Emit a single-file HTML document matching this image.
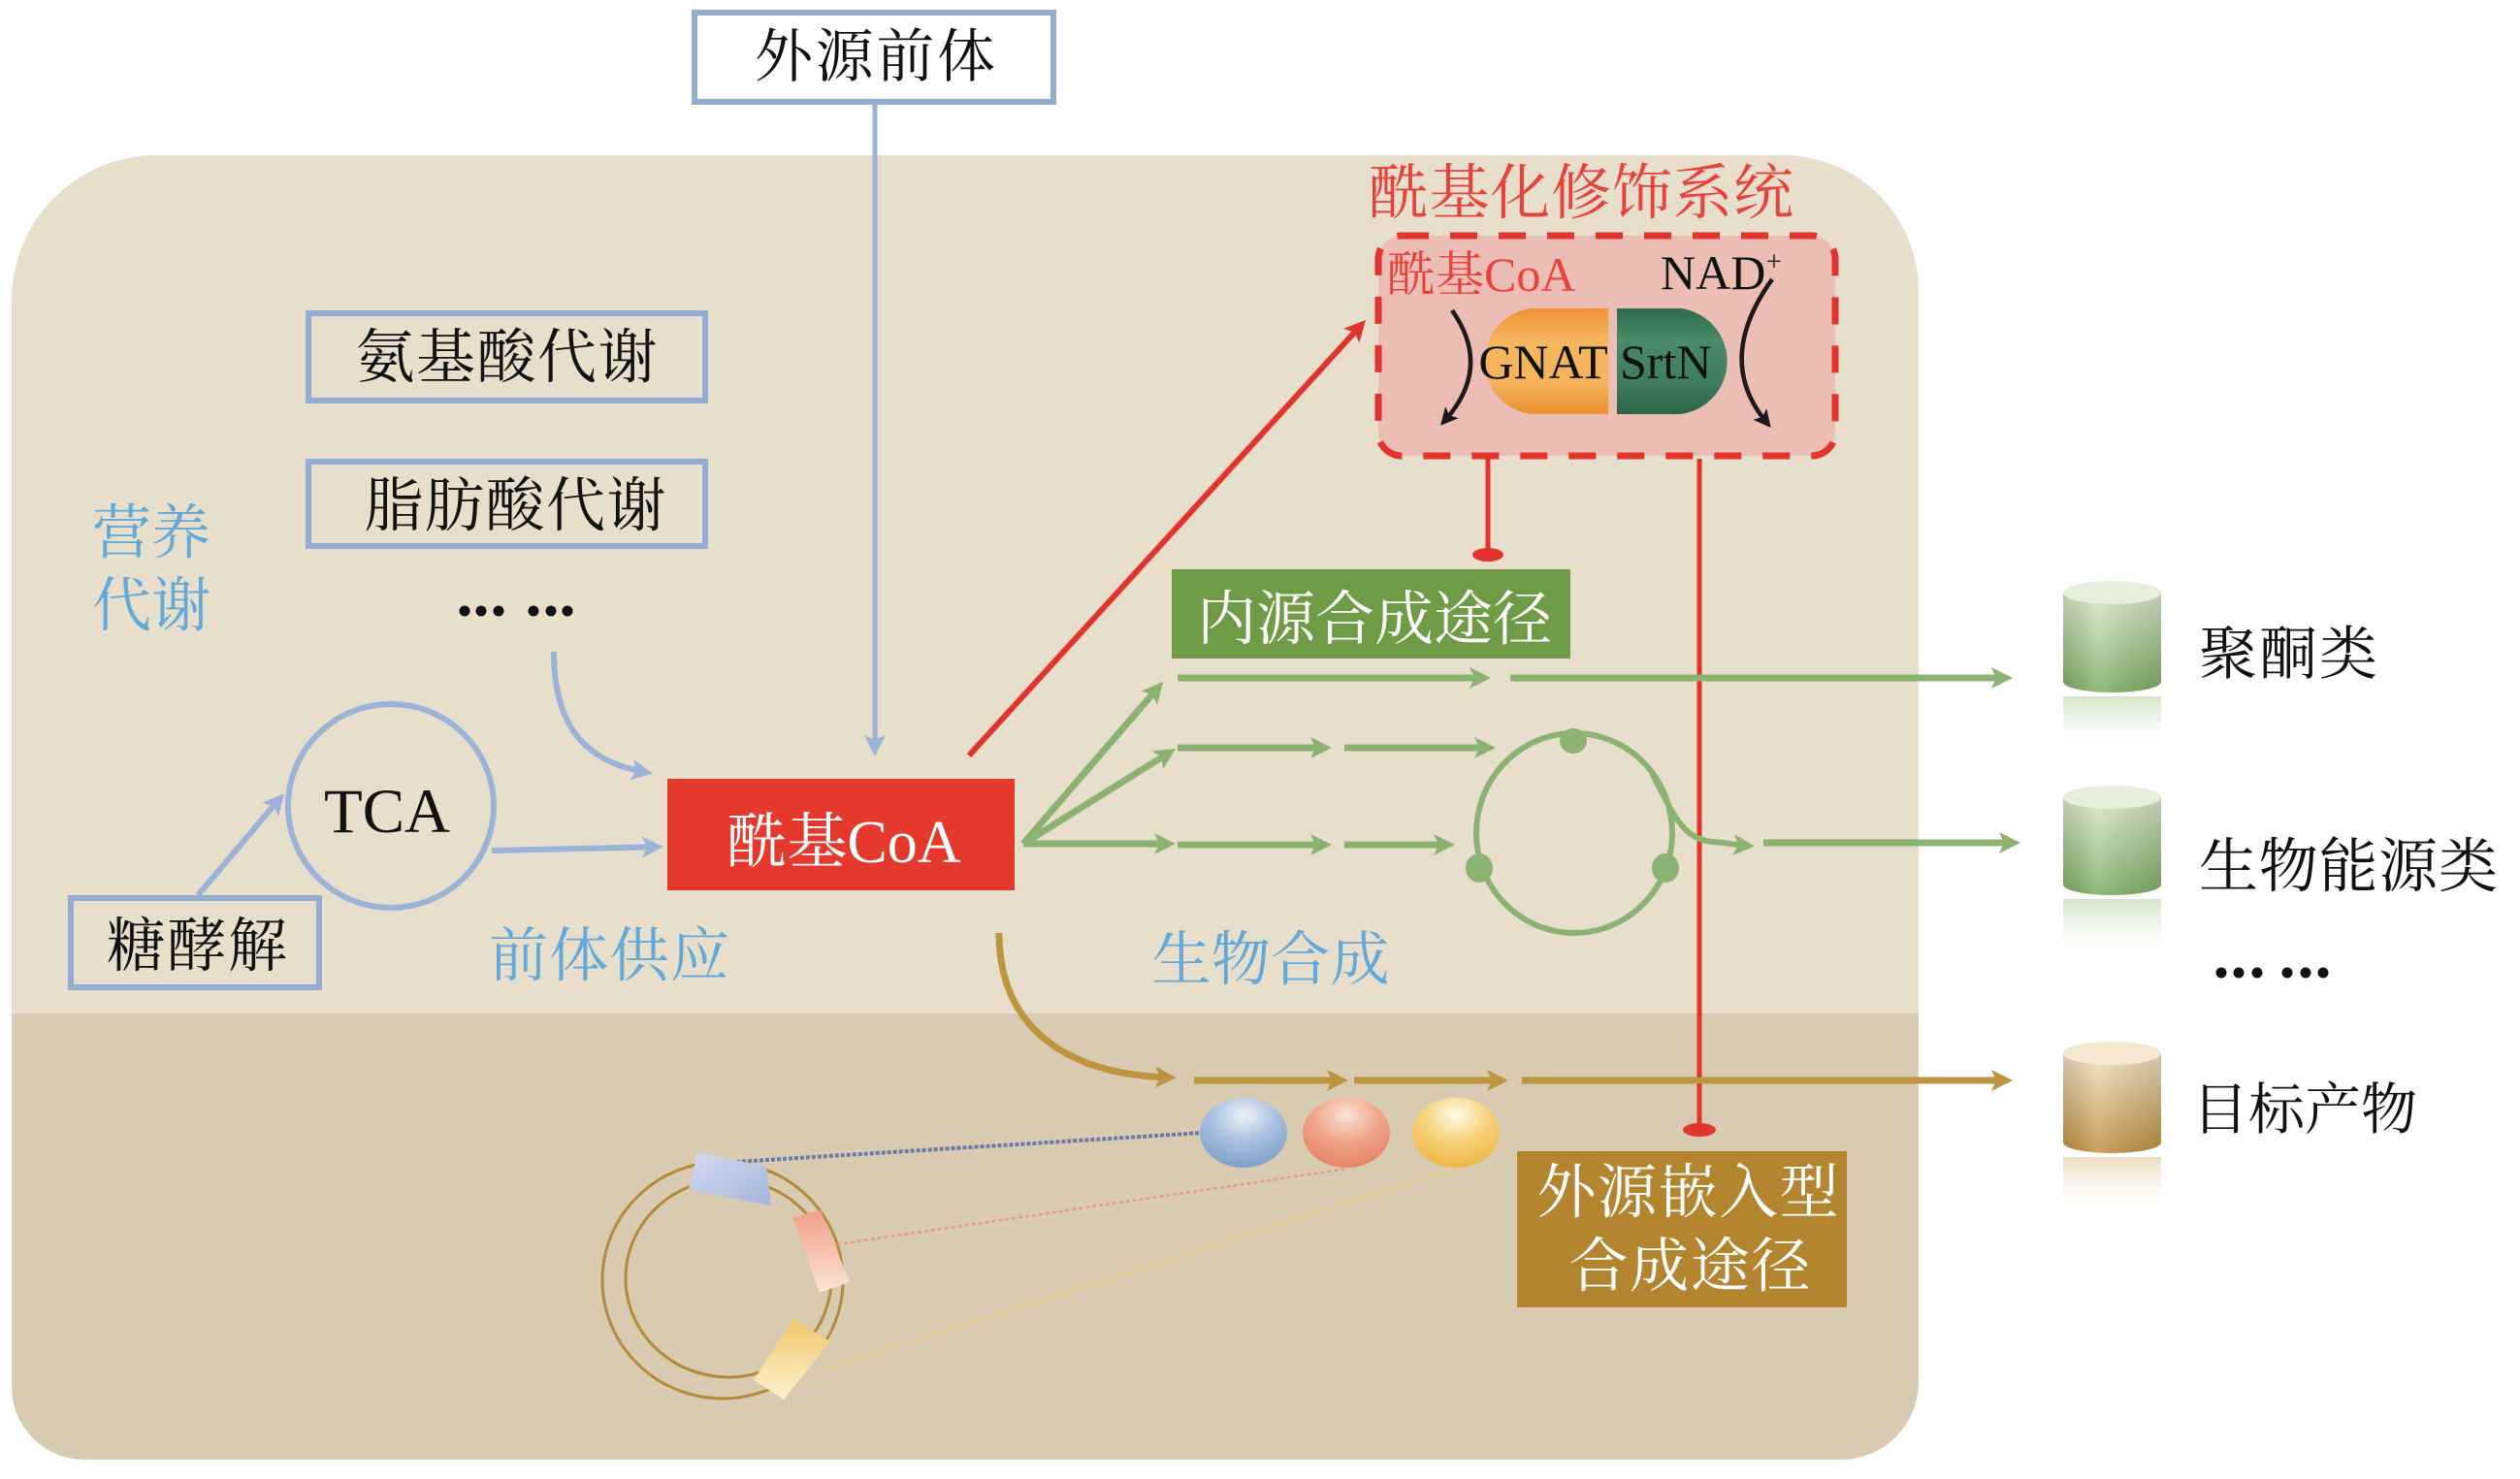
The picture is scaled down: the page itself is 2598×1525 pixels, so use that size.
<!DOCTYPE html>
<html><head><meta charset="utf-8"><style>
html,body{margin:0;padding:0;background:#fff;}
svg{display:block;}
text{font-family:"Liberation Serif","Noto Serif CJK SC",serif;}
</style></head><body>
<svg width="2598" height="1525" viewBox="0 0 2598 1525" xmlns="http://www.w3.org/2000/svg">
<defs>
<clipPath id="bgclip"><path d="M12,310 A150,150 0 0 1 162,160 L1838,160 A140,140 0 0 1 1978,300 L1978,1425 A80,80 0 0 1 1898,1505 L87,1505 A75,75 0 0 1 12,1430 Z"/></clipPath>
<marker id="mb" markerUnits="userSpaceOnUse" markerWidth="24" markerHeight="24" viewBox="0 -12 24 24" refX="14" refY="0" orient="auto"><path d="M0,-11 L22,0 L0,11 L5,0Z" fill="#9ab3d6"/></marker>
<marker id="mg" markerUnits="userSpaceOnUse" markerWidth="24" markerHeight="24" viewBox="0 -12 24 24" refX="14" refY="0" orient="auto"><path d="M0,-11 L22,0 L0,11 L5,0Z" fill="#8cb272"/></marker>
<marker id="mo" markerUnits="userSpaceOnUse" markerWidth="24" markerHeight="24" viewBox="0 -12 24 24" refX="14" refY="0" orient="auto"><path d="M0,-11 L22,0 L0,11 L5,0Z" fill="#bd943f"/></marker>
<marker id="mr" markerUnits="userSpaceOnUse" markerWidth="24" markerHeight="24" viewBox="0 -12 24 24" refX="14" refY="0" orient="auto"><path d="M0,-11 L22,0 L0,11 L5,0Z" fill="#e2342c"/></marker>
<marker id="mk" markerUnits="userSpaceOnUse" markerWidth="20" markerHeight="20" viewBox="0 -10 20 20" refX="9" refY="0" orient="auto"><path d="M0,-9 L18,0 L0,9 L4,0Z" fill="#1a1a1a"/></marker>
<linearGradient id="gOr" x1="0" y1="0" x2="0" y2="1"><stop offset="0" stop-color="#ef9234"/><stop offset="0.3" stop-color="#f5b660"/><stop offset="0.7" stop-color="#f4b35c"/><stop offset="1" stop-color="#ec9030"/></linearGradient>
<linearGradient id="gGr" x1="0" y1="0" x2="0" y2="1"><stop offset="0" stop-color="#2e6a4d"/><stop offset="0.3" stop-color="#4a8a68"/><stop offset="0.7" stop-color="#3f7d5d"/><stop offset="1" stop-color="#2b6447"/></linearGradient>
<linearGradient id="cylG" x1="0" y1="0" x2="0" y2="1"><stop offset="0" stop-color="#dbe8cd"/><stop offset="1" stop-color="#7eae64"/></linearGradient>
<linearGradient id="cylO" x1="0" y1="0" x2="0" y2="1"><stop offset="0" stop-color="#f0e2c4"/><stop offset="1" stop-color="#c19040"/></linearGradient>
<linearGradient id="cylH" x1="0" y1="0" x2="1" y2="0"><stop offset="0" stop-color="#000" stop-opacity="0.12"/><stop offset="0.35" stop-color="#fff" stop-opacity="0.15"/><stop offset="1" stop-color="#000" stop-opacity="0.12"/></linearGradient>
<linearGradient id="refG" x1="0" y1="0" x2="0" y2="1"><stop offset="0" stop-color="#9cc487" stop-opacity="0.45"/><stop offset="1" stop-color="#ffffff" stop-opacity="0"/></linearGradient>
<linearGradient id="refO" x1="0" y1="0" x2="0" y2="1"><stop offset="0" stop-color="#d8b078" stop-opacity="0.45"/><stop offset="1" stop-color="#ffffff" stop-opacity="0"/></linearGradient>
<radialGradient id="bB" cx="0.5" cy="0.25" r="0.75"><stop offset="0" stop-color="#eef2f8"/><stop offset="0.5" stop-color="#a9c0de"/><stop offset="1" stop-color="#7f9fcb"/></radialGradient>
<radialGradient id="bO" cx="0.5" cy="0.25" r="0.75"><stop offset="0" stop-color="#fbe3d6"/><stop offset="0.5" stop-color="#f0a58a"/><stop offset="1" stop-color="#e58566"/></radialGradient>
<radialGradient id="bY" cx="0.5" cy="0.25" r="0.75"><stop offset="0" stop-color="#fffbe8"/><stop offset="0.5" stop-color="#f6d27a"/><stop offset="1" stop-color="#eeb848"/></radialGradient>
<linearGradient id="pkB" x1="0" y1="0" x2="1" y2="1"><stop offset="0" stop-color="#d6dcf0"/><stop offset="1" stop-color="#a3b3da"/></linearGradient>
<linearGradient id="pkP" x1="0" y1="0" x2="0" y2="1"><stop offset="0" stop-color="#ef9f86"/><stop offset="1" stop-color="#fbe4d6"/></linearGradient>
<linearGradient id="pkY" x1="0" y1="0" x2="0" y2="1"><stop offset="0" stop-color="#f0c66a"/><stop offset="1" stop-color="#fdf2cf"/></linearGradient>
</defs>

<!-- background -->
<g clip-path="url(#bgclip)">
<rect x="0" y="150" width="2000" height="900" fill="#e7decb"/>
<rect x="0" y="1045" width="2000" height="470" fill="#d9cbb2"/>
</g>

<!-- 外源前体 -->
<rect x="716" y="13" width="370" height="92" fill="#fff" stroke="#93acd2" stroke-width="6"/>
<text x="902" y="79" font-size="60" text-anchor="middle" fill="#111" textLength="248" lengthAdjust="spacing">外源前体</text>
<path d="M902,106 L902,772" stroke="#9ab3d6" stroke-width="5" fill="none" marker-end="url(#mb)"/>

<!-- left boxes -->
<rect x="318" y="323" width="409" height="90" fill="none" stroke="#93acd2" stroke-width="6"/>
<text x="522" y="389" font-size="61" text-anchor="middle" fill="#111" textLength="311" lengthAdjust="spacing">氨基酸代谢</text>
<rect x="318" y="476" width="409" height="87" fill="none" stroke="#93acd2" stroke-width="6"/>
<text x="531" y="542" font-size="61" text-anchor="middle" fill="#111" textLength="311" lengthAdjust="spacing">脂肪酸代谢</text>

<text x="156" y="570" font-size="61" text-anchor="middle" fill="#62a8d8">营养</text>
<text x="156" y="645" font-size="61" text-anchor="middle" fill="#62a8d8">代谢</text>

<g fill="#111">
<circle cx="479" cy="630" r="5.5"/><circle cx="496" cy="630" r="5.5"/><circle cx="514" cy="630" r="5.5"/>
<circle cx="550" cy="630" r="5.5"/><circle cx="568" cy="630" r="5.5"/><circle cx="585" cy="630" r="5.5"/>
</g>
<path d="M571,672 C571,745 600,785 665,796" stroke="#9ab3d6" stroke-width="6" fill="none" marker-end="url(#mb)"/>

<!-- TCA -->
<ellipse cx="403" cy="831" rx="106" ry="105" fill="none" stroke="#9ab3d6" stroke-width="6"/>
<text x="399" y="858" font-size="65" text-anchor="middle" fill="#111">TCA</text>
<rect x="73" y="926" width="256" height="92" fill="none" stroke="#93acd2" stroke-width="6"/>
<text x="203" y="996" font-size="61" text-anchor="middle" fill="#111" textLength="186" lengthAdjust="spacing">糖酵解</text>
<path d="M204,923 L287.8,824.1" stroke="#9ab3d6" stroke-width="6" fill="none" marker-end="url(#mb)"/>
<path d="M507,877 L676,873.2" stroke="#9ab3d6" stroke-width="6" fill="none" marker-end="url(#mb)"/>
<text x="628" y="1006" font-size="61" text-anchor="middle" fill="#62a8d8" textLength="248" lengthAdjust="spacing">前体供应</text>

<!-- 酰基CoA -->
<rect x="688" y="803" width="358" height="115" fill="#e5392e"/>
<text x="870" y="889" font-size="62" text-anchor="middle" fill="#fff">酰基CoA</text>

<!-- red arrow up -->
<path d="M999,779 L1402.6,335.9" stroke="#e2342c" stroke-width="6" fill="none" marker-end="url(#mr)"/>

<!-- acylation system -->
<text x="1630" y="220" font-size="62" text-anchor="middle" fill="#e8433a" textLength="438" lengthAdjust="spacing">酰基化修饰系统</text>
<rect x="1421" y="243" width="471" height="227" rx="24" fill="#ecbdb5" stroke="#e2342c" stroke-width="7" stroke-dasharray="28 22"/>
<text x="1430" y="300" font-size="50" fill="#e8433a">酰基CoA</text>
<text x="1712" y="298" font-size="50" fill="#111">NAD</text>
<text x="1821" y="279" font-size="28" fill="#111">+</text>
<path d="M1658,318 L1578,318 A55,55 0 0 0 1578,427 L1658,427 Z" fill="url(#gOr)"/>
<path d="M1667,318 L1733,318 A55,55 0 0 1 1733,427 L1667,427 Z" fill="url(#gGr)"/>
<text x="1591" y="390" font-size="50" text-anchor="middle" fill="#111">GNAT</text>
<text x="1670" y="390" font-size="50" fill="#111">SrtN</text>
<path d="M1497,320 Q1538,378 1491,432" stroke="#1a1a1a" stroke-width="4.5" fill="none" marker-end="url(#mk)"/>
<path d="M1827,288 Q1768,370 1820,434" stroke="#1a1a1a" stroke-width="4.5" fill="none" marker-end="url(#mk)"/>

<!-- inhibitor lines -->
<path d="M1534,473 L1534,570" stroke="#e2342c" stroke-width="5"/>
<ellipse cx="1534" cy="572" rx="16" ry="7" fill="#e2342c"/>
<path d="M1752,473 L1752,1163" stroke="#e2342c" stroke-width="5"/>
<ellipse cx="1752" cy="1165" rx="17" ry="7" fill="#e2342c"/>

<!-- 内源合成途径 -->
<rect x="1208" y="587" width="411" height="92" fill="#6f9a46"/>
<text x="1417" y="659" font-size="61" text-anchor="middle" fill="#fff" textLength="366" lengthAdjust="spacing">内源合成途径</text>

<!-- green arrows -->
<g stroke="#8cb272" stroke-width="7" fill="none">
<path d="M1055,870 L1193.8,709.1" marker-end="url(#mg)"/>
<path d="M1055,870 L1205.2,776.2" marker-end="url(#mg)"/>
<path d="M1055,870 L1204,870" marker-end="url(#mg)"/>
<path d="M1214,699 L1529,699" marker-end="url(#mg)"/>
<path d="M1557,699 L2067,699" marker-end="url(#mg)"/>
<path d="M1214,771 L1365,771" marker-end="url(#mg)"/>
<path d="M1386,771 L1534,771" marker-end="url(#mg)"/>
<path d="M1214,871 L1365,871" marker-end="url(#mg)"/>
<path d="M1386,871 L1492,871" marker-end="url(#mg)"/>
<ellipse cx="1623" cy="859" rx="101" ry="103" stroke-width="6"/>
<path d="M1703,797 C1725,840 1735,865 1765,868 C1780,869 1788,871 1801,872" stroke-width="6" marker-end="url(#mg)"/>
<path d="M1818,869 L2075,869" marker-end="url(#mg)"/>
</g>
<g fill="#8cb272">
<ellipse cx="1622" cy="764" rx="14" ry="13"/>
<ellipse cx="1525" cy="895" rx="14" ry="15"/>
<ellipse cx="1717" cy="895" rx="14" ry="15"/>
</g>
<text x="1310" y="1010" font-size="61" text-anchor="middle" fill="#62a8d8" textLength="245" lengthAdjust="spacing">生物合成</text>

<!-- gold arrows -->
<g stroke="#bd943f" stroke-width="7" fill="none">
<path d="M1030,962 C1030,1060 1100,1108 1205,1111" marker-end="url(#mo)"/>
<path d="M1231,1114 L1382,1114" marker-end="url(#mo)"/>
<path d="M1396,1114 L1547,1114" marker-end="url(#mo)"/>
<path d="M1569,1114 L2067,1114" marker-end="url(#mo)"/>
</g>

<!-- plasmid -->
<ellipse cx="745" cy="1320" rx="124" ry="122" fill="none" stroke="#b48a3a" stroke-width="3"/>
<ellipse cx="751" cy="1318" rx="106" ry="102" fill="none" stroke="#b48a3a" stroke-width="3"/>
<path d="M759,1198 L1240,1168" stroke="#6b78a8" stroke-width="4" stroke-dasharray="4 2" fill="none"/>
<path d="M863,1283 L1390,1205" stroke="#e89a80" stroke-width="2.5" stroke-dasharray="4 3" fill="none"/>
<path d="M851,1412 L1500,1205" stroke="#eccf7c" stroke-width="2.5" stroke-dasharray="4 3" fill="none"/>
<polygon points="719,1188 790,1203 795,1243 710,1227" fill="url(#pkB)"/>
<polygon points="817,1255 846,1248 876,1322 845,1333" fill="url(#pkP)"/>
<polygon points="818,1360 856,1383 808,1443 777,1423" fill="url(#pkY)"/>

<!-- balls -->
<ellipse cx="1282" cy="1168" rx="45" ry="36" fill="url(#bB)"/>
<ellipse cx="1388" cy="1168" rx="45" ry="36" fill="url(#bO)"/>
<ellipse cx="1501" cy="1168" rx="45" ry="36" fill="url(#bY)"/>

<!-- 外源嵌入型合成途径 -->
<rect x="1564" y="1187" width="340" height="161" fill="#b3852f"/>
<text x="1740" y="1250" font-size="61" text-anchor="middle" fill="#fff" textLength="311" lengthAdjust="spacing">外源嵌入型</text>
<text x="1742" y="1326" font-size="61" text-anchor="middle" fill="#fff" textLength="249" lengthAdjust="spacing">合成途径</text>

<!-- cylinders -->
<g>
<path d="M2127,611 L2127,703 A50.5,11 0 0 0 2228,703 L2228,611 Z" fill="url(#cylG)"/>
<path d="M2127,611 L2127,703 A50.5,11 0 0 0 2228,703 L2228,611 Z" fill="url(#cylH)"/>
<ellipse cx="2177.5" cy="611" rx="50.5" ry="12" fill="#e6efdb"/>
<rect x="2127" y="718" width="101" height="60" fill="url(#refG)"/>
</g>
<g>
<path d="M2127,822 L2127,912 A50.5,11 0 0 0 2228,912 L2228,822 Z" fill="url(#cylG)"/>
<path d="M2127,822 L2127,912 A50.5,11 0 0 0 2228,912 L2228,822 Z" fill="url(#cylH)"/>
<ellipse cx="2177.5" cy="822" rx="50.5" ry="12" fill="#e6efdb"/>
<rect x="2127" y="927" width="101" height="65" fill="url(#refG)"/>
</g>
<g>
<path d="M2127,1086 L2127,1178 A50.5,11 0 0 0 2228,1178 L2228,1086 Z" fill="url(#cylO)"/>
<path d="M2127,1086 L2127,1178 A50.5,11 0 0 0 2228,1178 L2228,1086 Z" fill="url(#cylH)"/>
<ellipse cx="2177.5" cy="1086" rx="50.5" ry="12" fill="#f3e7cf"/>
<rect x="2127" y="1193" width="101" height="62" fill="url(#refO)"/>
</g>

<text x="2267" y="695" font-size="60" fill="#111" textLength="184" lengthAdjust="spacing">聚酮类</text>
<text x="2267" y="914" font-size="61" fill="#111" textLength="308" lengthAdjust="spacing">生物能源类</text>
<text x="2260" y="1164" font-size="58" fill="#111" textLength="232" lengthAdjust="spacing">目标产物</text>
<g fill="#111">
<circle cx="2290" cy="1003" r="5.5"/><circle cx="2308" cy="1003" r="5.5"/><circle cx="2327" cy="1003" r="5.5"/>
<circle cx="2358" cy="1003" r="5.5"/><circle cx="2377" cy="1003" r="5.5"/><circle cx="2395" cy="1003" r="5.5"/>
</g>
</svg>
</body></html>
